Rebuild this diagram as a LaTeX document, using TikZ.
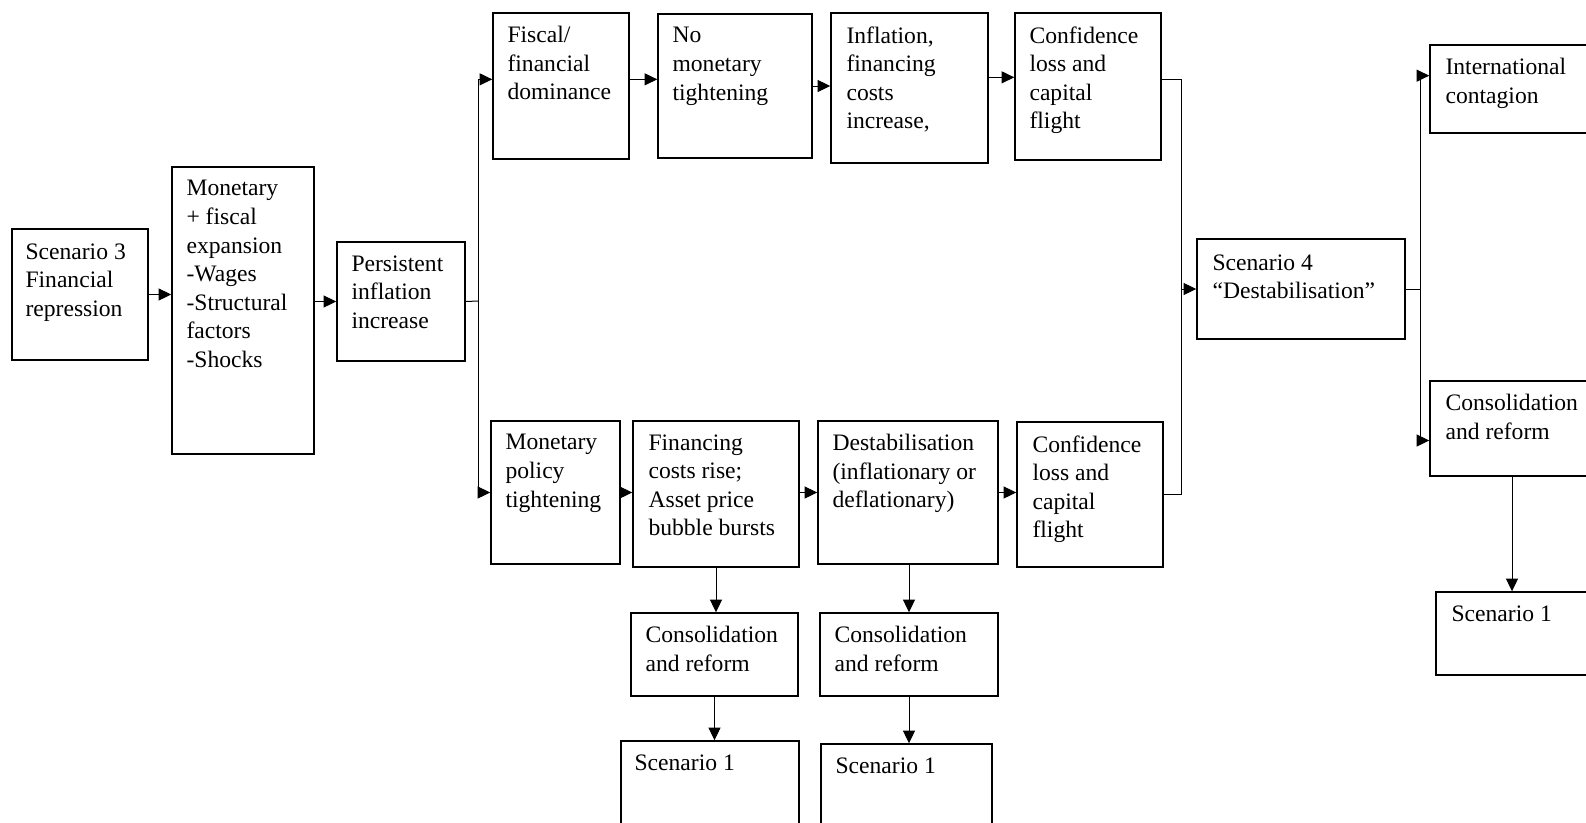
\documentclass[tikz,border=0pt]{standalone}
\usepackage{fontspec}
\setmainfont{Liberation Serif}
\usetikzlibrary{arrows.meta,fit}
\tikzset{
    box/.style ={rectangle, draw, line width=1.1pt, inner sep=0pt},
    txt/.style ={anchor=north west, inner sep=0pt, align=left,
        font=\fontsize{17.7}{21.4}\selectfont, execute at begin node=\strut},
    arr/.style ={-{Triangle[length=9.5pt,width=9pt]}, line width=0.75pt}}
\begin{document}
\begin{tikzpicture}[x=0.75pt,y=-0.75pt]
        \clip (0,0) rectangle (1586,822);
        \fill[white] (0,0) rectangle (1586,822);
        % first column
        \node[box, fit={(12,229) (148,360)}] (s3) {};
        \node[box, fit={(172,167) (314,454)}] (mon) {};
        \node[box, fit={(337,242) (465,361)}] (pers) {};
        % upper path
        \node[box, fit={(493,13) (629,159)}] (fisc) {};
        \node[box, fit={(658,14) (812,158)}] (nomon) {};
        \node[box, fit={(831,13) (988,163)}] (infl) {};
        \node[box, fit={(1015,13) (1161,160)}] (conf1) {};
        % lower path
        \node[box, fit={(491,421) (620,564)}] (mpt) {};
        \node[box, fit={(633,421) (799,567)}] (fin) {};
        \node[box, fit={(818,421) (998,564)}] (dest) {};
        \node[box, fit={(1017,422) (1163,567)}] (conf2) {};
        \node[box, fit={(631,613) (798,696)}] (consA) {};
        \node[box, fit={(820,613) (998,696)}] (consB) {};
        \node[box, fit={(621,741) (799,840)}] (scA) {};
        \node[box, fit={(821,744) (992,840)}] (scB) {};
        % right side
        \node[box, fit={(1197,239) (1405,339)}] (s4) {};
        \node[box, fit={(1430,45) (1594,133)}] (intl) {};
        \node[box, fit={(1430,381) (1594,476)}] (cons) {};
        \node[box, fit={(1436,592) (1588,675)}] (scC) {};
        % texts
        \node[txt] (s3-t) at ([shift={(14,15)}]s3.north west) {Scenario 3\\Financial\\repression};
        \node[txt] (mon-t) at ([shift={(15,14)}]mon.north west) {Monetary\\+ fiscal\\expansion\\-Wages\\-Structural\\factors\\-Shocks};
        \node[txt] (pers-t) at ([shift={(15,14)}]pers.north west) {Persistent\\inflation\\increase};
        \node[txt] (fisc-t) at ([shift={(15,14)}]fisc.north west) {Fiscal/\\financial\\dominance};
        \node[txt] (nomon-t) at ([shift={(15,14)}]nomon.north west) {No\\monetary\\tightening};
        \node[txt] (infl-t) at ([shift={(16,14)}]infl.north west) {Inflation,\\financing\\costs\\increase,};
        \node[txt] (conf1-t) at ([shift={(15,14)}]conf1.north west) {Confidence\\loss and\\capital\\flight};
        \node[txt] (mpt-t) at ([shift={(15,14)}]mpt.north west) {Monetary\\policy\\tightening};
        \node[txt] (fin-t) at ([shift={(16,14)}]fin.north west) {Financing\\costs rise;\\Asset price\\bubble bursts};
        \node[txt] (dest-t) at ([shift={(15,14)}]dest.north west) {Destabilisation\\(inflationary or\\deflationary)};
        \node[txt] (conf2-t) at ([shift={(16,14)}]conf2.north west) {Confidence\\loss and\\capital\\flight};
        \node[txt] (consA-t) at ([shift={(15,14)}]consA.north west) {Consolidation\\and reform};
        \node[txt] (consB-t) at ([shift={(15,14)}]consB.north west) {Consolidation\\and reform};
        \node[txt] (scA-t) at ([shift={(14,10)}]scA.north west) {Scenario 1};
        \node[txt] (scB-t) at ([shift={(15,10)}]scB.north west) {Scenario 1};
        \node[txt] (s4-t) at ([shift={(16,16)}]s4.north west) {Scenario 4\\“Destabilisation”};
        \node[txt] (intl-t) at ([shift={(16,14)}]intl.north west) {International\\contagion};
        \node[txt] (cons-t) at ([shift={(16,14)}]cons.north west) {Consolidation\\and reform};
        \node[txt] (scC-t) at ([shift={(16,10)}]scC.north west) {Scenario 1};
        % junctions
        \coordinate (j1) at (478,301);
        \coordinate (j4) at (1181,289);
        \coordinate (j5) at (1420,289);
        % connectors
        \draw[arr] (s3.east) -- (mon.west |- s3.east);
        \draw[arr] (mon.east |- pers.west) -- (pers.west);
        \draw[line width=0.75pt] (pers.east) -- (j1);
        \draw[arr] (j1) |- ([yshift=5pt]fisc.west);
        \draw[arr] (j1) |- (mpt.west);
        \draw[arr] ([yshift=5pt]fisc.east) -- ([yshift=5pt]nomon.west);
        \draw[arr] (nomon.east) -- (nomon.east -| infl.west);
        \draw[arr] ([yshift=8pt]infl.east) -- ([yshift=8pt]infl.east -| conf1.west);
        \draw[arr] (mpt.east) -- (mpt.east -| fin.west);
        \draw[arr] (fin.east |- dest.west) -- (dest.west);
        \draw[arr] (dest.east) -- (dest.east -| conf2.west);
        \draw[arr] (fin.south) -- (fin.south |- consA.north);
        \draw[arr] (dest.south -| consB.north) -- (consB.north);
        \draw[arr] (consA.south) -- (consA.south |- scA.north);
        \draw[arr] (consB.south) -- (consB.south |- scB.north);
        \draw[line width=0.75pt] ([yshift=5pt]conf1.east) -| (j4);
        \draw[line width=0.75pt] (conf2.east) -| (j4);
        \draw[arr] (j4) -- (s4.west);
        \draw[line width=0.75pt] (s4.east) -- (j5);
        \draw[arr] (j5) |- ([yshift=10pt]intl.west);
        \draw[arr] (j5) |- ([yshift=-9pt]cons.west);
        \draw[arr] (cons.south) -- (cons.south |- scC.north);
    \end{tikzpicture}
\end{document}
